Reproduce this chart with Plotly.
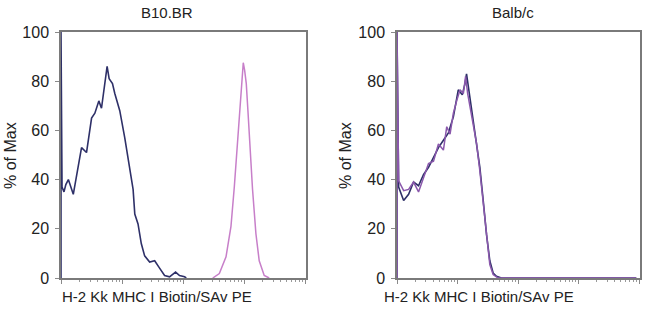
import plotly.graph_objects as go

# ---- data (fluorescence intensity, % of max) ----
b10_navy_x = [1, 1, 1.04, 1.12, 1.2, 1.32, 1.59, 2.17, 2.62, 3.17, 3.59, 4.17, 4.61, 5.23, 5.70, 6.15,
              6.98, 7.62, 9.19, 11.1, 13.4, 15.2, 16.2, 18.3, 20.7, 23.5, 28.4, 34.3, 41.3,
              49.9, 60.2, 75.5, 87.7, 106, 113]
b10_navy_y = [0, 100, 37, 35, 38, 40, 34, 53, 51, 65, 67, 72, 69, 79, 86, 81,
              79, 75, 68, 57, 45, 36, 26, 22, 14, 9, 6.5, 7, 4,
              1, 0.5, 2.4, 1, 0.5, 0]

b10_pink_x = [307, 394, 507, 611, 693, 785, 857, 925, 972, 1023, 1089, 1159, 1250, 1380, 1567,
              1774, 2143, 2585]
b10_pink_y = [0, 1.8, 8.6, 21, 37, 55, 70, 82, 87.5, 84.5, 79, 68, 53, 36, 18, 7, 1, 0]

balb_navy_x = [1, 1, 1.065, 1.287, 1.555, 1.879, 2.27, 2.74, 3.32, 4.01, 4.84, 5.85, 7.07, 8.54,
               10.3, 12.0, 13.3, 14.1, 15.1, 17.1, 20.7, 23.4, 26.6, 30.2, 34.2, 38.8, 44.0,
               53.2, 9000]
balb_navy_y = [0, 100, 37, 31.5, 34, 39, 37.5, 42, 45, 49, 53, 56, 59, 65.5,
               76.5, 74.5, 79, 83, 78, 68, 56, 45, 31.5, 17.5, 7, 2, 0.7,
               0, 0]

balb_purple_x = [1, 1, 1.065, 1.287, 1.555, 1.879, 2.27, 2.74, 3.32, 4.01, 4.84, 5.85, 6.64, 7.53,
                 8.54, 9.69, 11.0, 12.5, 13.6, 14.7, 17.1, 20.7, 23.4, 26.6, 30.2, 34.2, 38.8,
                 46.9, 9000]
balb_purple_y = [0, 100, 39.5, 35.5, 36, 39, 35, 41, 46.5, 47.5, 54.5, 52, 61.5, 58.5,
                 67, 72, 76.5, 75, 82, 75, 65.5, 54.5, 43.5, 30, 16.5, 5.5, 1.4,
                 0, 0]

y_ticks = [0, 20, 40, 60, 80, 100]
x_major = [1, 10, 100, 1000, 10000]
x_minor = [m * d for d in [1, 10, 100, 1000] for m in range(2, 10)]

titles = ["B10.BR", "Balb/c"]
x_label = "H-2 Kk MHC I Biotin/SAv PE"
y_label = "% of Max"

NAVY = "#2e3068"
PINK = "#c77fc9"
PURPLE = "#8a58ac"
W, H = 650, 313

fig = go.Figure()
fig.add_trace(go.Scatter(x=b10_pink_x, y=b10_pink_y, mode="lines",
                         line=dict(color=PINK, width=1.5), xaxis="x", yaxis="y"))
fig.add_trace(go.Scatter(x=b10_navy_x, y=b10_navy_y, mode="lines",
                         line=dict(color=NAVY, width=1.6), xaxis="x", yaxis="y"))
fig.add_trace(go.Scatter(x=balb_navy_x, y=balb_navy_y, mode="lines",
                         line=dict(color=NAVY, width=1.6), xaxis="x2", yaxis="y2"))
fig.add_trace(go.Scatter(x=balb_purple_x, y=balb_purple_y, mode="lines",
                         line=dict(color=PURPLE, width=1.5), xaxis="x2", yaxis="y2"))

FONT = "Liberation Sans, Arial, sans-serif"

def xaxis(domain):
    return dict(domain=domain, type="log", range=[0, 4.016], showgrid=False, zeroline=False,
                automargin=False,
                showline=True, linecolor="#7a7a7a", linewidth=1.5, mirror=True,
                tickmode="array", tickvals=x_major, ticktext=[""] * len(x_major),
                ticks="outside", ticklen=4, tickcolor="#8a8a8a",
                minor=dict(tickmode="array", tickvals=x_minor, ticks="outside", ticklen=2,
                           tickcolor="#9a9a9a", showgrid=False))

def yaxis(domain, anchor):
    return dict(domain=domain, anchor=anchor, range=[0, 100], showgrid=False, zeroline=False,
                automargin=False,
                showline=True, linecolor="#7a7a7a", linewidth=1.5, mirror=True,
                tickmode="array", tickvals=y_ticks, ticks="outside", ticklen=4,
                tickcolor="#8a8a8a", ticklabelstandoff=3,
                tickfont=dict(family=FONT, size=16, color="#222222"))

ydom = [(H - 278) / H, (H - 32) / H]
fig.update_layout(
    template="none",
    width=W, height=H, margin=dict(l=0, r=0, t=0, b=0, pad=0, autoexpand=False),
    paper_bgcolor="white", plot_bgcolor="white", showlegend=False,
    xaxis=dict(xaxis([61 / W, 306 / W]), anchor="y"),
    yaxis=yaxis(ydom, "x"),
    xaxis2=dict(xaxis([397 / W, 640 / W]), anchor="y2"),
    yaxis2=yaxis(ydom, "x2"),
)

ann = []
for cx, t in zip([167, 513], titles):
    ann.append(dict(x=cx / W, y=(H - 13) / H, xref="paper", yref="paper", text=t,
                    showarrow=False, font=dict(family=FONT, size=15, color="#222222"),
                    xanchor="center", yanchor="middle"))
for cx in [157, 479]:
    ann.append(dict(x=cx / W, y=(H - 296) / H, xref="paper", yref="paper", text=x_label,
                    showarrow=False, font=dict(family=FONT, size=15, color="#222222"),
                    xanchor="center", yanchor="middle"))
for cx in [10, 345]:
    ann.append(dict(x=cx / W, y=(H - 156) / H, xref="paper", yref="paper", text=y_label,
                    showarrow=False, textangle=-90,
                    font=dict(family=FONT, size=16, color="#222222"),
                    xanchor="center", yanchor="middle"))
fig.update_layout(annotations=ann)

fig.write_html("out.html")
